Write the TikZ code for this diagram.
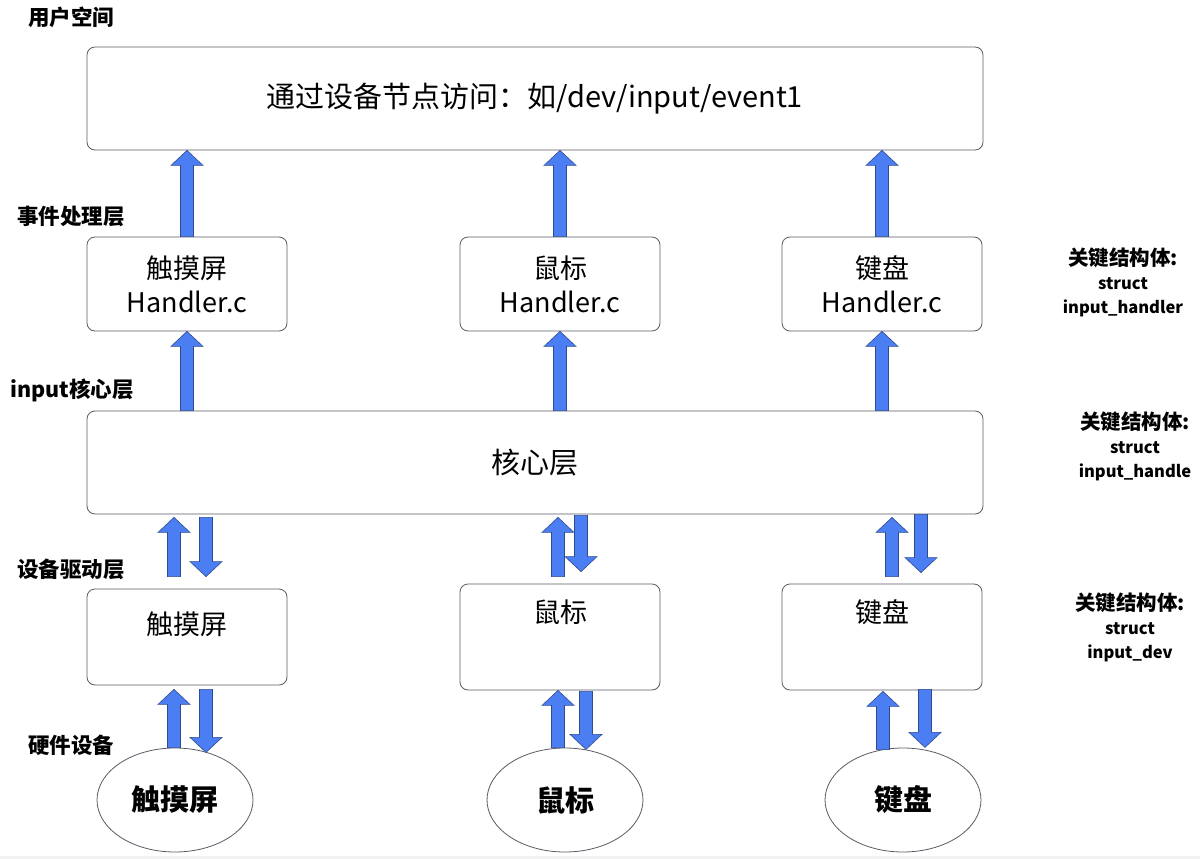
\documentclass[tikz,border=0pt]{standalone}
\usepackage{fontspec}
\setmainfont{Noto Sans CJK SC}
\usetikzlibrary{shapes.geometric,calc}

\definecolor{arrowblue}{HTML}{4A7EF2}
\definecolor{arrowline}{HTML}{2F4A8F}
\definecolor{boxline}{HTML}{5A5A66}

\newcommand{\latinline}[1]{{\fontsize{16.5}{24}\selectfont #1}}

\begin{document}
\begin{tikzpicture}[x=1pt, y=-1pt,
  box/.style={draw=boxline, line width=0.8pt, rounded corners=8pt, align=center, inner sep=0pt, font=\fontsize{27}{34}\selectfont},
  layer/.style={font=\bfseries\fontsize{21.5}{24}\selectfont, anchor=west, inner sep=0pt},
  note/.style={font=\bfseries\fontsize{20.5}{24}\selectfont, align=center, inner sep=0pt},
  dev/.style={draw=boxline, line width=0.8pt, ellipse, minimum width=156pt, minimum height=104pt, inner sep=0pt, font=\bfseries\fontsize{29}{30}\selectfont},
  blockarrow/.style={draw=arrowline, fill=arrowblue, line width=0.6pt,
    to path={let \p1=(\tikztostart), \p2=(\tikztotarget),
      \n1={ifthenelse(\y2>\y1,15pt,-15pt)} in
      (\x1-6.5pt,\y1) -- (\x1-6.5pt,\y2-\n1) -- (\x1-16pt,\y2-\n1) -- (\x1,\y2)
      -- (\x1+16pt,\y2-\n1) -- (\x1+6.5pt,\y2-\n1) -- (\x1+6.5pt,\y1) -- cycle}}]

\useasboundingbox (0,0) rectangle (1200,859);
\fill[gray!10] (0,856) rectangle (1200,859);

% layer names
\node[layer] (lUser) at (28,17) {用户空间};
\node[layer] (lEvent) at (17,216) {事件处理层};
\node[layer] (lCore) at (10,390) {input核心层};
\node[layer] (lDrv) at (17,569) {设备驱动层};
\node[layer] (lHw) at (28,745) {硬件设备};

% boxes
\node[box, minimum width=896pt, minimum height=103pt, font=\fontsize{29}{30}\selectfont] (user) at (535,98.5) {通过设备节点访问：如/dev/input/event1};

\node[box, minimum width=200pt, minimum height=94pt] (hTouch) at (187,284) {触摸屏\\Handler.c};
\node[box, minimum width=200pt, minimum height=94pt] (hMouse) at (560,284) {鼠标\\Handler.c};
\node[box, minimum width=200pt, minimum height=94pt] (hKey) at (882,284) {键盘\\Handler.c};

\node[box, minimum width=896pt, minimum height=103pt, font=\fontsize{29}{30}\selectfont] (core) at (535,462.5) {核心层};

\node[box, minimum width=200pt, minimum height=96pt, label={[anchor=center, yshift=-36pt, font=\fontsize{27}{30}\selectfont]north:触摸屏}] (dTouch) at (187,637) {};
\node[box, minimum width=200pt, minimum height=106pt, label={[anchor=center, yshift=-29pt, font=\fontsize{27}{30}\selectfont]north:鼠标}] (dMouse) at (560,637) {};
\node[box, minimum width=200pt, minimum height=106pt, label={[anchor=center, yshift=-29pt, font=\fontsize{27}{30}\selectfont]north:键盘}] (dKey) at (882,637) {};

\node[dev] (eTouch) at (175,800) {触摸屏};
\node[dev] (eMouse) at (565,800) {鼠标};
\node[dev] (eKey) at (903,800) {键盘};

% notes
\node[note] (nHandler) at (1123,282) {关键结构体:\\\latinline{struct}\\\latinline{input\_handler}};
\node[note] (nHandle) at (1135,446) {关键结构体:\\\latinline{struct}\\\latinline{input\_handle}};
\node[note] (nDev) at (1130,627) {关键结构体:\\\latinline{struct}\\\latinline{input\_dev}};

% handlers -> user space
\draw[blockarrow] (hTouch.north) to (hTouch.north |- user.south);
\draw[blockarrow] (hMouse.north) to (hMouse.north |- user.south);
\draw[blockarrow] (hKey.north) to (hKey.north |- user.south);

% core -> handlers
\draw[blockarrow] (core.north -| hTouch.south) to (hTouch.south);
\draw[blockarrow] (core.north -| hMouse.south) to (hMouse.south);
\draw[blockarrow] (core.north -| hKey.south) to (hKey.south);

% drivers <-> core
\draw[blockarrow] ($(dTouch.north)+(-13,-12)$) to ($(dTouch.north |- core.south)+(-13,3)$);
\draw[blockarrow] ($(dTouch.north |- core.south)+(19,3)$) to ($(dTouch.north)+(19,-12)$);
\draw[blockarrow] ($(dMouse.north)+(-2,-7)$) to ($(dMouse.north |- core.south)+(-2,3)$);
\draw[blockarrow] ($(dMouse.north |- core.south)+(21,1)$) to ($(dMouse.north)+(21,-12)$);
\draw[blockarrow] ($(dKey.north)+(10,-7)$) to ($(dKey.north |- core.south)+(10,3)$);
\draw[blockarrow] ($(dKey.north |- core.south)+(39,0)$) to ($(dKey.north)+(39,-11)$);

% devices <-> drivers
\draw[blockarrow] ($(eTouch.north)+(-1,0)$) to ($(dTouch.south)+(-13,4)$);
\draw[blockarrow] ($(dTouch.south)+(19,4)$) to ($(dTouch.south)+(19,67)$);
\draw[blockarrow] ($(eMouse.north)+(-7,0)$) to ($(dMouse.south)+(-2,0)$);
\draw[blockarrow] ($(dMouse.south)+(26,1)$) to ($(dMouse.south)+(26,59)$);
\draw[blockarrow] ($(eKey.north)+(-20,2)$) to ($(dKey.south)+(1,1)$);
\draw[blockarrow] ($(dKey.south)+(43,-1)$) to ($(dKey.south)+(43,57)$);

\end{tikzpicture}
\end{document}
